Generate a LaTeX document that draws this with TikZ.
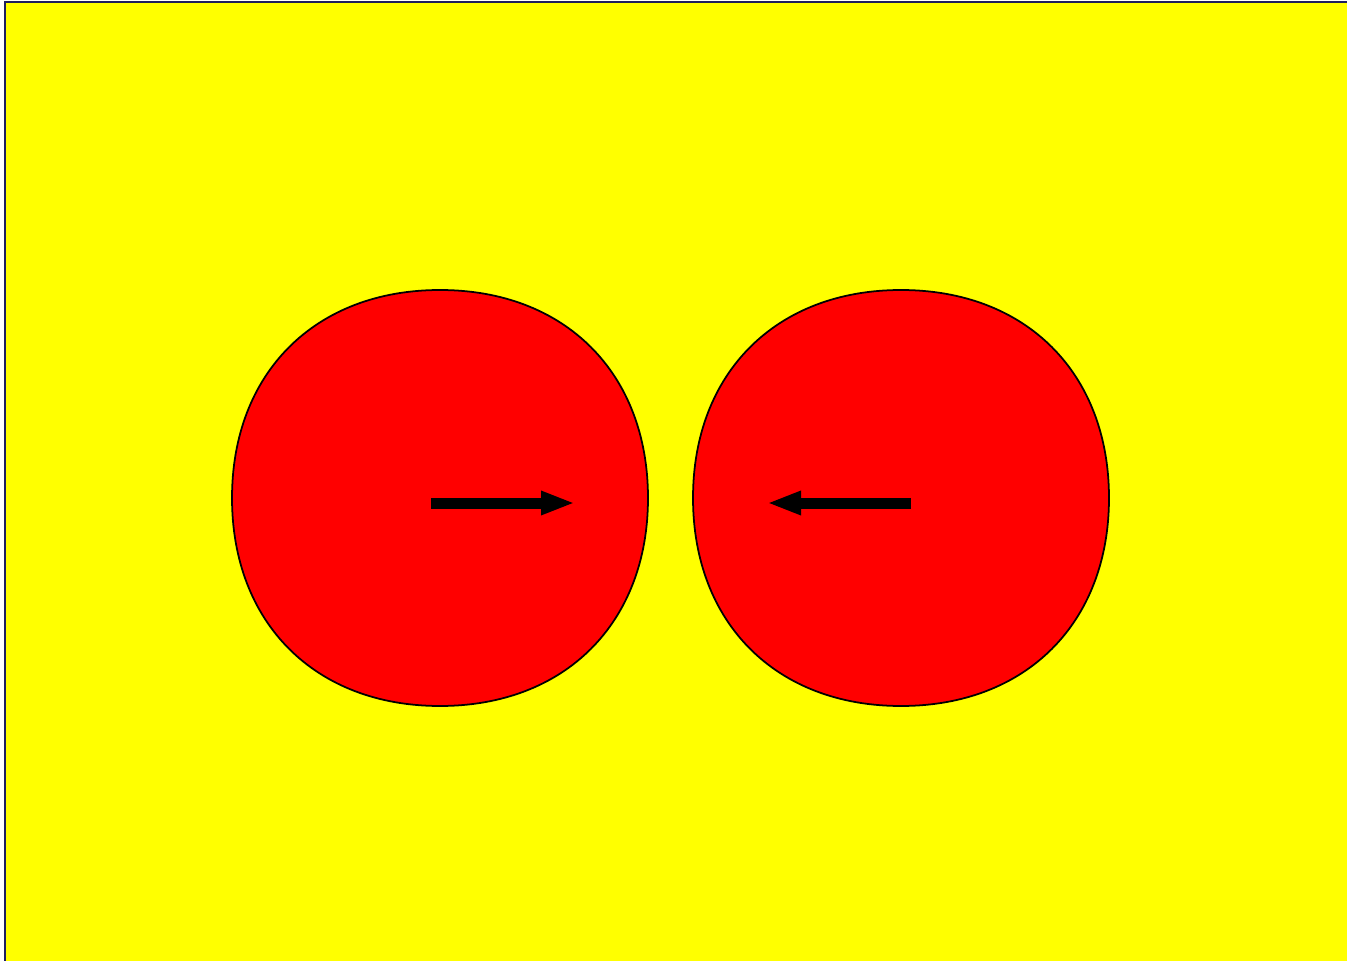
\documentclass[tikz,border=0pt]{standalone}
\usepackage{tikz}
\usetikzlibrary{arrows.meta, positioning}
\usepackage{xcolor}
\definecolor{bgyellow}{HTML}{FFFF00}
\definecolor{ballred}{HTML}{FF0000}
\definecolor{frameblue}{HTML}{1F1F5F}

\begin{document}
\begin{tikzpicture}[
  x=0.1mm, y=-0.1mm,
  ball/.style={draw=black, fill=ballred, line width=0.5pt},
  push/.style={-{Triangle[length=0.34cm, width=0.22cm]}, line width=0.11cm, black}
]
  % Canvas with the frame only on its top and left edges
  \clip (0,0) rectangle (1347,961);
  \draw[frameblue, fill=bgyellow, line width=0.8pt] (5,2) rectangle (1400,1000);

  % Two balls (slightly full-bodied curves)
  \foreach \cx/\name in {440/left, 901/right} {
    \coordinate (\name) at (\cx,498);
    \draw[ball] (\cx+208,498)
      .. controls (\cx+208,373) and (\cx+125,290) .. (\cx,290)
      .. controls (\cx-125,290) and (\cx-208,373) .. (\cx-208,498)
      .. controls (\cx-208,623) and (\cx-125,706) .. (\cx,706)
      .. controls (\cx+125,706) and (\cx+208,623) .. (\cx+208,498) -- cycle;
  }

  % Arrow end points
  \coordinate (lefttail) at (431,503);
  \coordinate (lefttip) at (575,503);
  \coordinate (righttail) at (911,503);
  \coordinate (righttip) at (767,503);

  % Arrows pointing toward each other
  \draw[push] (lefttail) -- (lefttip);
  \draw[push] (righttail) -- (righttip);
\end{tikzpicture}
\end{document}
